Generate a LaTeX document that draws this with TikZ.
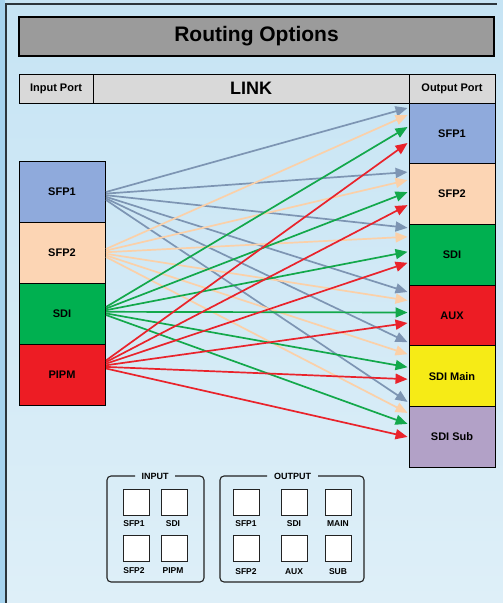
\documentclass[tikz,border=0pt]{standalone}
\usepackage{fontspec}
\setmainfont{Liberation Sans}
\usetikzlibrary{arrows.meta,calc}
\definecolor{bgtop}{HTML}{C6E4F4}
\definecolor{bgbot}{HTML}{DEEFF8}
\definecolor{strip}{HTML}{A6D3EE}
\definecolor{framec}{HTML}{2B353B}
\definecolor{titlef}{HTML}{9B9B9B}
\definecolor{headf}{HTML}{D9D9D9}
\definecolor{cSFPa}{HTML}{8FAADC}
\definecolor{cSFPb}{HTML}{FCD5B4}
\definecolor{cSDI}{HTML}{00B050}
\definecolor{cRED}{HTML}{ED1C24}
\definecolor{cYEL}{HTML}{F6EB16}
\definecolor{cLAV}{HTML}{B2A1C7}
\definecolor{lgray}{HTML}{7D95B3}
\definecolor{lpeach}{HTML}{FBD0A8}
\definecolor{lgreen}{HTML}{13A84B}
\definecolor{lred}{HTML}{E9232B}
\definecolor{legc}{HTML}{222222}
\begin{document}
\begin{tikzpicture}[x=1pt,y=-1pt,
  hdr/.style={draw=black, line width=0.9pt, fill=headf, inner sep=0pt, font=\fontsize{11}{13}\selectfont\bfseries},
  portbox/.style={draw=black, line width=0.9pt, minimum width=86pt, inner sep=0pt, font=\fontsize{11}{13}\selectfont\bfseries},
  inbox/.style={portbox, minimum height=61pt},
  outbox/.style={portbox, minimum height=60.7pt},
  ln/.style={line width=1.7pt, -{Triangle[length=12pt,width=10pt]}},
  sq/.style={draw=legc, line width=1pt, fill=white, minimum size=26pt, inner sep=0pt},
  sqlab/.style={font=\fontsize{8.5}{10}\selectfont\bfseries, inner sep=0pt},
  grp/.style={draw=legc, line width=1.1pt, rounded corners=4pt}
]
\useasboundingbox (0,0) rectangle (503,603);
% background
\shade[top color=bgtop, bottom color=bgbot] (0,0) rectangle (503,603);
\fill[strip] (0,0) rectangle (5,603);
\draw[framec, line width=2pt] (6,603) -- (6,4) -- (497,4);

% title
\node[draw=black, line width=1.1pt, fill=titlef, minimum width=475pt, minimum height=39pt, inner sep=0pt,
      font=\fontsize{21}{24}\selectfont\bfseries] (title) at (256.5,36.5) {Routing Options};

% header row
\node[hdr, minimum width=74pt, minimum height=29pt] (hin) at (56,88.5) {Input Port};
\node[hdr, minimum width=316pt, minimum height=29pt, font=\fontsize{18}{20}\selectfont\bfseries] (hlink) at (251,88.5) {LINK};
\node[hdr, minimum width=86pt, minimum height=29pt] (hout) at (452,88.5) {Output Port};

% inputs
\node[inbox, fill=cSFPa] (in1) at (62,191.5) {SFP1};
\node[inbox, fill=cSFPb] (in2) at (62,252.5) {SFP2};
\node[inbox, fill=cSDI]  (in3) at (62,313.5) {SDI};
\node[inbox, fill=cRED]  (in4) at (62,374.5) {PIPM};

% outputs
\node[outbox, fill=cSFPa] (out1) at (452,133.4) {SFP1};
\node[outbox, fill=cSFPb] (out2) at (452,194.1) {SFP2};
\node[outbox, fill=cSDI]  (out3) at (452,254.8) {SDI};
\node[outbox, fill=cRED]  (out4) at (452,315.5) {AUX};
\node[outbox, fill=cYEL]  (out5) at (452,376.2) {SDI Main};
\node[outbox, fill=cLAV]  (out6) at (452,436.9) {SDI Sub};

% connectors
\foreach \o/\e in {1/-25.4, 2/-22, 3/-27, 4/-23.5, 5/-34, 6/-35}
  \draw[ln, lgray] ($(in1.east)+(0.5,{4.5+(\o-3.5)*1.6})$) -- ($(out\o.west)+(-1,\e)$);
\foreach \o/\e in {1/-18.4, 2/-14, 3/-18, 4/-15, 5/-22, 6/-24}
  \draw[ln, lpeach] ($(in2.east)+(0.5,{0.5+(\o-3.5)*1.6})$) -- ($(out\o.west)+(-1,\e)$);
\foreach \o/\e in {1/-6.4, 2/-2, 3/-3, 4/-3, 5/-9, 6/-13}
  \draw[ln, lgreen] ($(in3.east)+(0.5,{-2.5+(\o-3.5)*1.6})$) -- ($(out\o.west)+(-1,\e)$);
\foreach \o/\e in {1/9.6, 2/11, 3/8, 4/7.5, 5/3, 6/0}
  \draw[ln, lred] ($(in4.east)+(0.5,{-10+(\o-3.5)*1.6})$) -- ($(out\o.west)+(-1,\e)$);

% legend: input group
\draw[grp] (135,476) -- (107,476) -- (107,582) -- (204,582) -- (204,476) -- (175,476);
\node[sqlab, font=\fontsize{9}{10}\selectfont\bfseries] (ginput) at (155,476) {INPUT};
\node[sq] (iq1) at (136,502) {};
\node[sq] (iq2) at (174,502) {};
\node[sq] (iq3) at (136,548) {};
\node[sq] (iq4) at (174,548) {};
\node[sqlab] (il1) at (134,523.5) {SFP1};
\node[sqlab] (il2) at (173,523.5) {SDI};
\node[sqlab] (il3) at (134,571) {SFP2};
\node[sqlab] (il4) at (173,571) {PIPM};

% legend: output group
\draw[grp] (267,476) -- (220,476) -- (220,582) -- (364,582) -- (364,476) -- (318,476);
\node[sqlab, font=\fontsize{9}{10}\selectfont\bfseries] (goutput) at (292.5,476) {OUTPUT};
\node[sq] (oq1) at (246,502) {};
\node[sq] (oq2) at (294,502) {};
\node[sq] (oq3) at (338,502) {};
\node[sq] (oq4) at (246,548) {};
\node[sq] (oq5) at (294,548) {};
\node[sq] (oq6) at (338,548) {};
\node[sqlab] (ol1) at (246,523.5) {SFP1};
\node[sqlab] (ol2) at (294,523.5) {SDI};
\node[sqlab] (ol3) at (338,523.5) {MAIN};
\node[sqlab] (ol4) at (246,572) {SFP2};
\node[sqlab] (ol5) at (294,572) {AUX};
\node[sqlab] (ol6) at (338,572) {SUB};
\end{tikzpicture}
\end{document}
